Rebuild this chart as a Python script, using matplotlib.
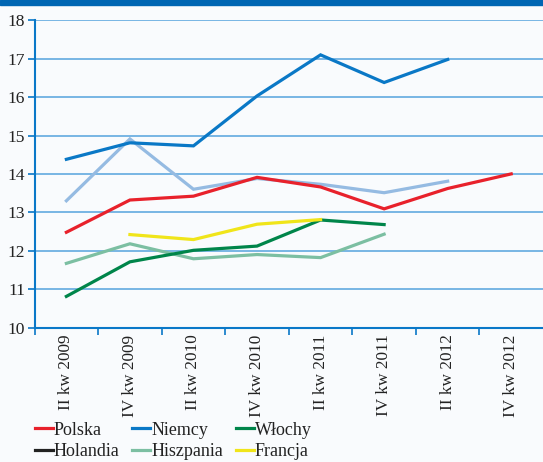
import numpy as np
import matplotlib
matplotlib.use("Agg")
import matplotlib.pyplot as plt
from matplotlib.lines import Line2D
from matplotlib.patches import Rectangle

categories = ["II kw 2009", "IV kw 2009", "II kw 2010", "IV kw 2010",
              "II kw 2011", "IV kw 2011", "II kw 2012", "IV kw 2012"]

polska    = [12.48, 13.32, 13.42, 13.91, 13.66, 13.09, 13.62, 14.00]
niemcy    = [14.38, 14.81, 14.73, 16.03, 17.10, 16.38, 16.98, None]
wlochy    = [10.81, 11.71, 12.01, 12.12, 12.80, 12.68, None, None]
holandia  = [13.30, 14.91, 13.60, 13.88, 13.73, 13.51, 13.81, None]
hiszpania = [11.67, 12.18, 11.79, 11.90, 11.82, 12.43, None, None]
francja   = [None, 12.42, 12.29, 12.69, 12.81, None, None, None]

yticks = [10, 11, 12, 13, 14, 15, 16, 17, 18]

plt.rcParams['font.family'] = ['Liberation Serif', 'DejaVu Serif']

BG = '#f9fbfd'
AX = '#0a78c8'
GRID = '#62aadf'

fig = plt.figure(figsize=(5.43, 4.62), dpi=100, facecolor=BG)
fig.add_artist(Rectangle((0, 1 - 5/462), 1, 5/462, transform=fig.transFigure,
                         color='#0066b3', zorder=0))

ax = fig.add_axes([34.6/543, 1 - 327.5/462, 1 - 34.6/543, (327.5 - 20.3)/462])
ax.set_facecolor(BG)

x = np.arange(len(categories))

def arr(v):
    return np.array([np.nan if a is None else a for a in v], dtype=float)

series = [
    ("Polska", polska, '#e8212b'),
    ("Niemcy", niemcy, '#0a78c6'),
    ("Włochy", wlochy, '#00854a'),
    ("Holandia", holandia, '#95bbe2'),
    ("Hiszpania", hiszpania, '#7cbfa2'),
    ("Francja", francja, '#f0e51a'),
]
legend_colors = {"Polska": '#e8212b', "Niemcy": '#0a78c6', "Włochy": '#00854a',
                 "Holandia": '#222222', "Hiszpania": '#7cbfa2', "Francja": '#f0e51a'}

draw_order = ["Hiszpania", "Włochy", "Francja", "Holandia", "Polska", "Niemcy"]
sd = {n: (v, c) for n, v, c in series}
for i, n in enumerate(draw_order):
    v, c = sd[n]
    ax.plot(x, arr(v), color=c, lw=2.3, zorder=3 + i, solid_joinstyle='miter')

ax.set_xlim(-0.5, 7.5)
ax.set_ylim(10, 18)
ax.set_yticks(yticks)
ax.set_yticklabels([str(t) for t in yticks])
ax.yaxis.grid(True, color=GRID, lw=1.2)
ax.set_axisbelow(True)

ax.set_xticks(x)
ax.set_xticklabels(categories, rotation=90, va='top', ha='center')
ax.set_xticks(np.arange(-0.5, 7.0, 1.0), minor=True)
ax.tick_params(axis='x', which='major', length=0, pad=5, labelsize=12.4, colors='#222222')
ax.tick_params(axis='x', which='minor', length=5, width=1.2, color=AX)
ax.tick_params(axis='y', length=5, width=1.2, color=AX, pad=2, labelsize=12.6, labelcolor='#222222')

for s in ['top', 'right']:
    ax.spines[s].set_visible(False)
for s in ['left', 'bottom']:
    ax.spines[s].set_color(AX)
    ax.spines[s].set_linewidth(1.5)

order = ["Polska", "Holandia", "Niemcy", "Hiszpania", "Włochy", "Francja"]
handles = [Line2D([], [], color=legend_colors[n], lw=2.3) for n in order]
leg = fig.legend(handles, order, ncol=3, loc='upper left',
                 bbox_to_anchor=(31/543, 1 - 418/462), frameon=False,
                 fontsize=13, handlelength=1.0, handletextpad=0.05,
                 columnspacing=0.72, labelspacing=0.25, borderpad=0.2,
                 borderaxespad=0)
for t in leg.get_texts():
    t.set_color('#222222')

fig.savefig("out.png", dpi=100, facecolor=BG)
